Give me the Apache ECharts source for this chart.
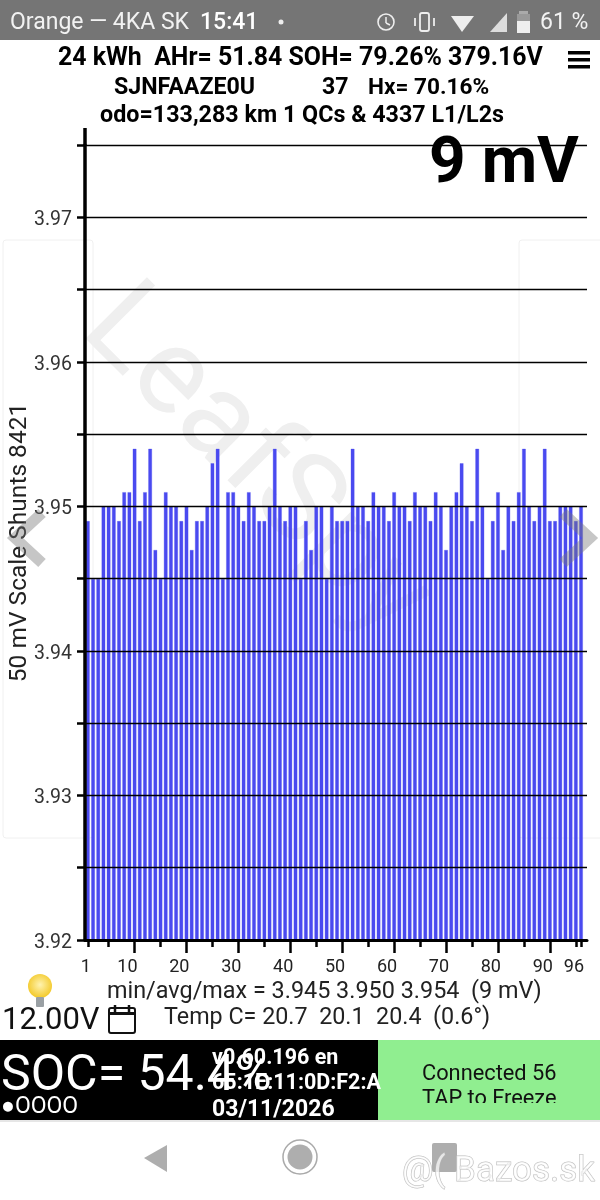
<!DOCTYPE html>
<html>
<head>
<meta charset="utf-8">
<title>LeafSpy cell voltages</title>
<script src="https://cdn.jsdelivr.net/npm/echarts@6/dist/echarts.min.js"></script>
<style>
html, body { margin: 0; padding: 0; background: #fff; }
#chart { width: 600px; height: 1200px; }
</style>
</head>
<body>
<div id="chart"></div>
<script>
// cell voltages left to right (cells 1-96)
const cellVoltages = [
    3.949, 3.945, 3.945, 3.950, 3.950, 3.950, 3.949, 3.951, 3.951, 3.954,
    3.949, 3.951, 3.954, 3.947, 3.945, 3.951, 3.950, 3.950, 3.949, 3.950,
    3.947, 3.949, 3.949, 3.950, 3.953, 3.954, 3.945, 3.951, 3.951, 3.950,
    3.949, 3.951, 3.950, 3.949, 3.949, 3.950, 3.954, 3.950, 3.949, 3.950,
    3.950, 3.945, 3.949, 3.947, 3.950, 3.950, 3.945, 3.950, 3.949, 3.949,
    3.949, 3.954, 3.950, 3.950, 3.949, 3.951, 3.950, 3.950, 3.949, 3.951,
    3.950, 3.950, 3.949, 3.951, 3.950, 3.950, 3.949, 3.951, 3.950, 3.947,
    3.950, 3.951, 3.953, 3.950, 3.949, 3.954, 3.950, 3.945, 3.949, 3.951,
    3.947, 3.950, 3.949, 3.951, 3.954, 3.950, 3.949, 3.950, 3.954, 3.949,
    3.949, 3.950, 3.950, 3.950, 3.949, 3.950
];
const shortTicks = [1, 5, 15, 25, 35, 45, 55, 65, 75, 85, 95, 96];
const longTicks = [10, 20, 30, 40, 50, 60, 70, 80, 90];
const xLabels = [1, 10, 20, 30, 40, 50, 60, 70, 80, 90, 96];
const yLabels = [3.92, 3.93, 3.94, 3.95, 3.96, 3.97];

const FONT = 'Roboto';

// text helper for everything around the plot
function txt(text, x, y, size, color, weight, z) {
    return {
        type: 'text', x: x, y: y, z: z === undefined ? 20 : z, silent: true,
        style: {
            text: text, fill: color || '#111', fontFamily: FONT,
            fontSize: size, fontWeight: weight || 'normal',
            textAlign: 'left', textVerticalAlign: 'middle'
        }
    };
}
function box(x, y, w, h, fill, z, r) {
    return {
        type: 'rect', z: z === undefined ? 15 : z, silent: true,
        shape: { x: x, y: y, width: w, height: h, r: r || 0 },
        style: { fill: fill }
    };
}
function line(x1, y1, x2, y2, color, width, z) {
    return {
        type: 'line', z: z === undefined ? 15 : z, silent: true,
        shape: { x1: x1, y1: y1, x2: x2, y2: y2 },
        style: { stroke: color, lineWidth: width }
    };
}
function chevron(points) {
    return {
        type: 'polyline', z: 12, silent: true,
        shape: { points: points },
        style: { stroke: 'rgba(120,120,120,0.42)', lineWidth: 11, fill: null, lineJoin: 'miter' }
    };
}

const extras = [
    // page cards and watermark behind the bars
    { type: 'rect', z: 0, silent: true, shape: { x: 3, y: 240, width: 90, height: 598, r: 3 }, style: { fill: '#fff', stroke: '#f0f0f0', lineWidth: 1 } },
    { type: 'rect', z: 0, silent: true, shape: { x: 519, y: 240, width: 90, height: 598, r: 3 }, style: { fill: '#fff', stroke: '#f0f0f0', lineWidth: 1 } },
    {
        type: 'text', x: 57, y: 353, rotation: -Math.PI / 4, z: 1, silent: true,
        style: { text: 'LeafSpy', fill: '#efefef', fontFamily: FONT, fontSize: 122, textAlign: 'left', textVerticalAlign: 'bottom' }
    },

    // status bar
    box(0, 0, 600, 40, '#757575'),
    txt('Orange — 4KA SK', 10, 23, 23, '#f2f2f2'),
    txt('15:41', 200, 23, 23, '#fff', 500),
    { type: 'circle', z: 20, silent: true, shape: { cx: 281, cy: 22, r: 2.5 }, style: { fill: '#eee' } },
    { type: 'circle', z: 20, silent: true, shape: { cx: 386, cy: 22, r: 8 }, style: { fill: null, stroke: '#eee', lineWidth: 1.6 } },
    line(386, 17, 386, 23, '#eee', 1.5, 20),
    line(386, 23, 390, 25, '#eee', 1.5, 20),
    { type: 'rect', z: 20, silent: true, shape: { x: 420, y: 13, width: 9, height: 18, r: 2 }, style: { fill: null, stroke: '#eee', lineWidth: 1.8 } },
    line(415, 18, 415, 26, '#eee', 1.8, 20),
    line(434, 18, 434, 26, '#eee', 1.8, 20),
    { type: 'polygon', z: 20, silent: true, shape: { points: [[451, 16], [474, 16], [462, 32]] }, style: { fill: '#eee' } },
    { type: 'polygon', z: 20, silent: true, shape: { points: [[507, 13], [507, 32], [490, 32]] }, style: { fill: '#ddd' } },
    box(519, 11, 9, 3, '#aaa', 20),
    box(517, 14, 13, 7, '#999', 20),
    box(517, 21, 13, 12, '#eee', 20),
    txt('61 %', 540, 23, 23, '#f2f2f2'),

    // header lines
    txt('24 kWh  AHr= 51.84 SOH= 79.26% 379.16V', 58, 59, 24.9, '#000', 'bold'),
    txt('SJNFAAZE0U', 114, 88, 23.2, '#000', 'bold'),
    txt('37', 322, 88, 23.2, '#000', 'bold'),
    txt('Hx= 70.16%', 368, 88, 22.6, '#000', 'bold'),
    txt('odo=133,283 km 1 QCs & 4337 L1/L2s', 100, 116, 23.3, '#000', 'bold'),
    box(568, 51, 22, 3.5, '#000', 20),
    box(568, 58, 22, 3.5, '#000', 20),
    box(568, 65, 22, 3.5, '#000', 20),
    txt('9 mV', 429, 166, 64, '#000', 'bold'),

    // top stub of the y axis above the last gridline
    line(85, 128, 85, 146, '#000', 3.5, 6),

    // chevrons lie over the bars
    chevron([[42, 513], [15, 538], [42, 563]]),
    chevron([[563, 513], [590, 538], [563, 563]]),

    // stats below the axis
    txt('min/avg/max = 3.945 3.950 3.954  (9 mV)', 107, 992, 23.4, '#222'),
    txt('Temp C= 20.7  20.1  20.4  (0.6°)', 164, 1018, 23.3, '#222'),
    txt('12.00V', 2, 1021, 31, '#111'),

    // bulb
    {
        type: 'circle', z: 20, silent: true, shape: { cx: 40, cy: 986, r: 12 },
        style: { fill: new echarts.graphic.RadialGradient(0.5, 0.45, 0.6, [{ offset: 0, color: '#fff3b0' }, { offset: 1, color: '#f2c51c' }]) }
    },
    box(36, 997, 8, 10, '#9aa0a4', 20, 1),

    // calendar
    { type: 'rect', z: 20, silent: true, shape: { x: 109, y: 1008, width: 26, height: 25, r: 2 }, style: { fill: '#fff', stroke: '#111', lineWidth: 2 } },
    box(109, 1012, 26, 3, '#111', 20),
    line(115, 1005, 115, 1012, '#111', 2.5, 21),
    line(129, 1005, 129, 1012, '#111', 2.5, 21),

    // bottom panels
    box(0, 1040, 378, 80, '#000'),
    box(378, 1040, 222, 80, '#90ee90'),
    txt('SOC= 54.4%', 1, 1077, 50, '#fff'),
    txt('●OOOO', 1, 1107, 23, '#fff'),
    txt('v0.60.196 en', 212, 1059, 21.5, '#fff', 'bold', 21),
    txt('65:1E:11:0D:F2:A', 212, 1084, 21.5, '#fff', 'bold', 21),
    txt('03/11/2026', 212, 1110, 23, '#fff', 'bold', 21),
    txt('Connected 56', 422, 1075, 21.8, '#111', 'normal', 21),
    txt('TAP to Freeze', 422, 1100, 21.8, '#111', 'normal', 21),
    box(378, 1103, 222, 17, '#90ee90', 22),
    box(0, 1120, 600, 2, '#e6e6e6'),

    // nav bar
    { type: 'polygon', z: 20, silent: true, shape: { points: [[167, 1145], [167, 1172], [144, 1158]] }, style: { fill: '#aeaeae' } },
    { type: 'circle', z: 20, silent: true, shape: { cx: 300, cy: 1157, r: 17 }, style: { fill: '#fff', stroke: '#aaa', lineWidth: 1.5 } },
    { type: 'circle', z: 21, silent: true, shape: { cx: 300, cy: 1157, r: 12.5 }, style: { fill: '#aeaeae' } },
    box(432, 1143, 25, 29, '#aeaeae', 20, 2),
    {
        type: 'text', x: 402, y: 1172, z: 22, silent: true,
        style: { text: '@( Bazos.sk', fill: 'rgba(255,255,255,0.7)', stroke: '#bbb', lineWidth: 1, fontFamily: FONT, fontSize: 35, textAlign: 'left', textVerticalAlign: 'middle' }
    }
];

const chart = echarts.init(document.getElementById('chart'));

chart.setOption({
    animation: false,
    backgroundColor: '#fff',
    textStyle: { fontFamily: FONT },
    grid: { left: 85, right: 13, top: 145, bottom: 260, containLabel: false, outerBoundsMode: 'none' },
    xAxis: [
        {
            // short ticks and the axis line
            type: 'value', min: 0.45, max: 97.15, position: 'bottom', z: 5,
            axisLine: { show: true, onZero: false, lineStyle: { color: '#000', width: 3 } },
            axisTick: { show: true, customValues: shortTicks, length: 7, lineStyle: { color: '#000', width: 2.5 } },
            axisLabel: { show: false },
            splitLine: { show: false }
        },
        {
            // long ticks and the labels
            type: 'value', min: 0.45, max: 97.15, position: 'bottom', z: 5,
            axisLine: { show: false },
            axisTick: { show: true, customValues: longTicks, length: 13, lineStyle: { color: '#000', width: 2.5 } },
            axisLabel: {
                show: true, customValues: xLabels, align: 'right', margin: 18,
                fontFamily: FONT, fontSize: 18, color: '#222', padding: [0, -3, 0, 0]
            },
            splitLine: { show: false }
        }
    ],
    yAxis: {
        type: 'value', min: 3.92, max: 3.975, interval: 0.005, z: 5,
        name: '50 mV Scale Shunts 8421', nameLocation: 'middle', nameGap: 53, nameRotate: 90,
        nameMoveOverlap: false,
        nameTextStyle: { fontFamily: FONT, fontSize: 24.5, color: '#222' },
        axisLine: { show: true, onZero: false, lineStyle: { color: '#000', width: 3.5 } },
        axisTick: { show: true, length: 8, lineStyle: { color: '#000', width: 2.5 } },
        axisLabel: {
            customValues: yLabels, margin: 13, fontFamily: FONT, fontSize: 19.5, color: '#333',
            verticalAlign: 'top', lineHeight: 6,
            formatter: function(v) { return v.toFixed(2); }
        },
        splitLine: { show: true, lineStyle: { color: '#000', width: 1.4 } }
    },
    series: [{
        type: 'bar',
        xAxisIndex: 0,
        z: 3,
        barWidth: 4.2,
        itemStyle: { color: '#4a4af0', borderColor: 'rgba(74,74,240,0.3)', borderWidth: 1 },
        data: cellVoltages.map(function(v, i) { return [i + 1, v]; })
    }],
    graphic: { elements: extras }
});
</script>
</body>
</html>
